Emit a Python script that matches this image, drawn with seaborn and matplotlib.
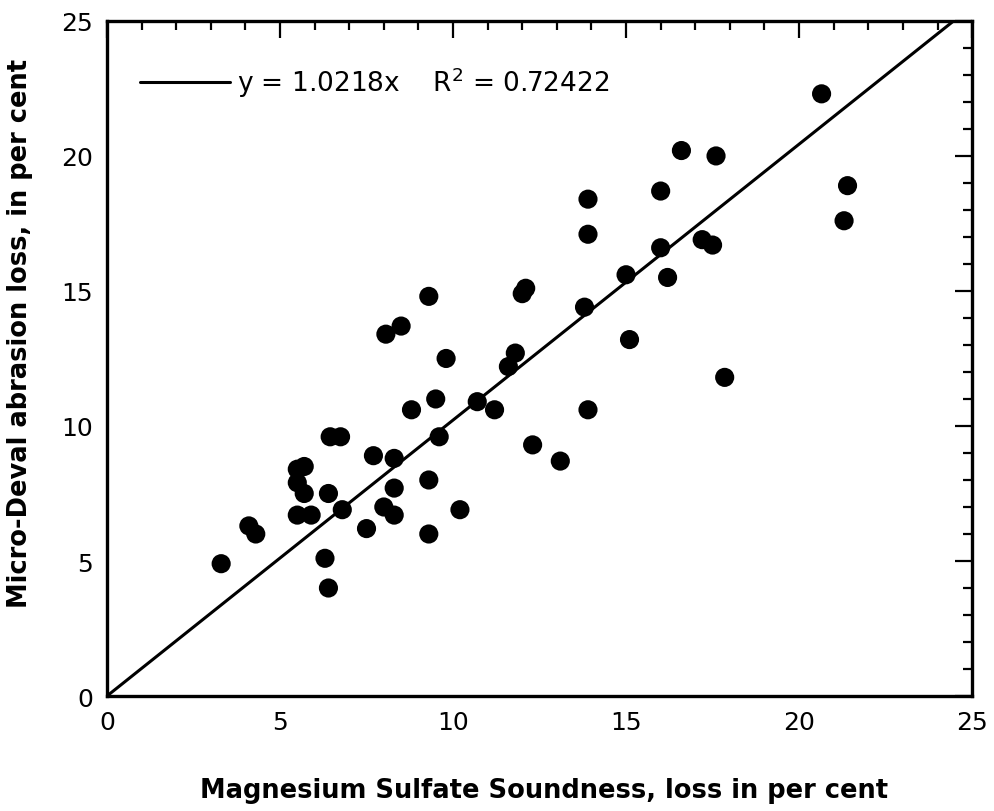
import numpy as np
import pandas as pd
import matplotlib
matplotlib.use("Agg")
import matplotlib.pyplot as plt
import seaborn as sns
from matplotlib.ticker import MultipleLocator

# Magnesium sulfate soundness loss (%) vs Micro-Deval abrasion loss (%)
mgso4_loss = [3.3, 4.1, 4.3, 5.5, 5.9, 5.7, 5.5, 5.5, 5.7, 6.45,
              6.75, 6.4, 6.8, 6.3, 6.4, 7.5, 7.7, 8.3, 8.3, 8.0,
              8.3, 9.3, 9.3, 9.6, 10.2, 8.8, 9.5, 10.7, 9.3, 8.5,
              8.06, 12.0, 12.1, 9.8, 11.2, 11.8, 11.6, 13.8, 15.0, 16.2,
              15.1, 13.9, 12.3, 13.1, 17.85, 16.0, 17.5, 20.65, 16.6, 17.6,
              16.0, 13.9, 13.9, 21.4, 21.3, 17.2]
micro_deval_loss = [4.9, 6.3, 6.0, 6.7, 6.7, 7.5, 7.9, 8.4, 8.5, 9.6,
                    9.6, 7.5, 6.9, 5.1, 4.0, 6.2, 8.9, 8.8, 7.7, 7.0,
                    6.7, 8.0, 6.0, 9.6, 6.9, 10.6, 11.0, 10.9, 14.8, 13.7,
                    13.4, 14.9, 15.1, 12.5, 10.6, 12.7, 12.2, 14.4, 15.6, 15.5,
                    13.2, 10.6, 9.3, 8.7, 11.8, 16.6, 16.7, 22.3, 20.2, 20.0,
                    18.7, 18.4, 17.1, 18.9, 17.6, 16.9]

slope = 1.0218
r_squared = 0.72422
fit_x = [0, 25]

df = pd.DataFrame({"mgso4": mgso4_loss, "md": micro_deval_loss})

sns.set_style("white", rc={"text.color": "black", "axes.labelcolor": "black",
                           "xtick.color": "black", "ytick.color": "black"})
plt.rcParams["font.family"] = ["DejaVu Sans"]

fig = plt.figure(figsize=(9.95, 8.12), dpi=100)
ax = fig.add_axes([0.1075, 0.1416, 0.8695, 0.8314])

sns.scatterplot(data=df, x="mgso4", y="md", ax=ax, s=190, color="black",
                edgecolor="none", zorder=3)
ax.plot(fit_x, [slope * v for v in fit_x], color="black", lw=2.2,
        label=f"y = {slope}x    R$^2$ = {r_squared}")

ax.set_xlim(0, 25)
ax.set_ylim(0, 25)
ax.xaxis.set_major_locator(MultipleLocator(5))
ax.yaxis.set_major_locator(MultipleLocator(5))
ax.xaxis.set_minor_locator(MultipleLocator(1))
ax.yaxis.set_minor_locator(MultipleLocator(1))
ax.tick_params(which="both", direction="in", top=True, right=True,
               labeltop=False, labelright=False)
ax.tick_params(which="major", length=12, width=1.6, labelsize=18, pad=10)
ax.tick_params(which="minor", length=6.5, width=1.6)
for sp in ax.spines.values():
    sp.set_linewidth(2.4)
    sp.set_color("black")

ax.set_xlabel("Magnesium Sulfate Soundness, loss in per cent",
              fontsize=18.5, fontweight="bold")
ax.set_ylabel("Micro-Deval abrasion loss, in per cent",
              fontsize=18.5, fontweight="bold")
ax.xaxis.set_label_coords(0.505, -0.12)
ax.yaxis.set_label_coords(-0.086, 0.539)

ax.legend(loc="upper left", bbox_to_anchor=(0.038, 0.935), frameon=False,
          fontsize=19, handlelength=3.4, handletextpad=0.3,
          borderaxespad=0, borderpad=0)

plt.savefig("out.png", dpi=100)
